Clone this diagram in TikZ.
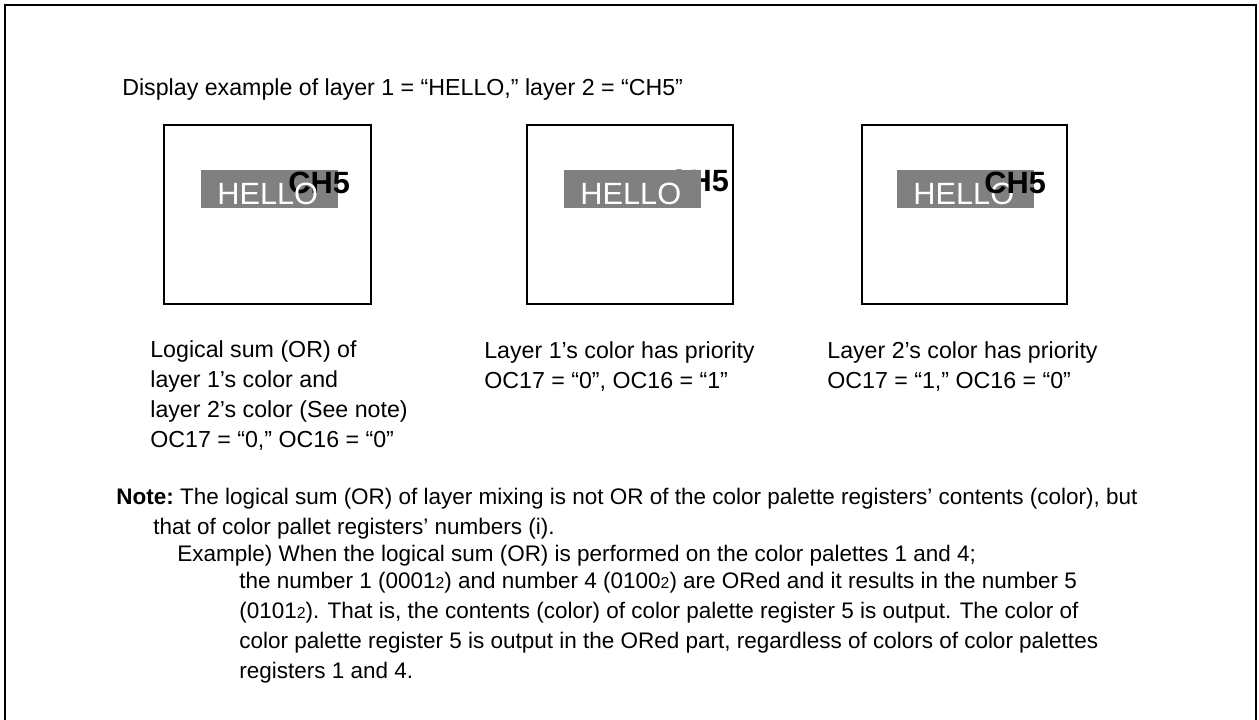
\documentclass[tikz,border=0pt]{standalone}
\usepackage{fontspec}
\setmainfont{Liberation Sans}
\usetikzlibrary{positioning}

\definecolor{barGray}{gray}{0.5}
\tikzset{
  screen/.style={line width=0.8pt},
  bar/.style={fill=barGray},
  hello/.style={text=white,font=\fontsize{17.5}{17.5}\selectfont,anchor=base west,inner sep=0pt},
  chfive/.style={font=\bfseries\fontsize{17.5}{17.5}\selectfont,anchor=base west,inner sep=0pt},
  txt/.style={align=left,anchor=base west,inner sep=0pt,font=\fontsize{13.2}{17}\selectfont},
  notetxt/.style={txt,font=\fontsize{12.8}{17}\selectfont},
}
\newcommand{\bintwo}[1]{#1{\fontsize{9}{9}\selectfont 2}}

\begin{document}
\begin{tikzpicture}[x=0.02cm,y=-0.02cm]
  \useasboundingbox (0,0) rectangle (1259,720);
  % outer frame (open at the bottom)
  \draw[line width=1.2pt] (5,730) -- (5,5) -- (1256,5) -- (1256,730);
  \node[txt] (title) at (122,95) {Display example of layer 1 = “HELLO,” layer 2 = “CH5”};
  % screen 1: OR of both layers
  \draw[screen] (164,125) rectangle (371,304);
  \fill[bar] (201,170) rectangle (338,208);
  \node[chfive] (ch1) at (288,193) {CH5};
  \node[hello] (hello1) at (217,204) {HELLO};
  % screen 2: layer 1 on top
  \draw[screen] (527,125) rectangle (733,304);
  \node[chfive] (ch2) at (667,191) {CH5};
  \fill[bar] (564,170) rectangle (701,208);
  \node[hello] (hello2) at (580,204) {HELLO};
  % screen 3: layer 2 on top
  \draw[screen] (862,125) rectangle (1067,304);
  \fill[bar] (897,170) rectangle (1034,208);
  \node[hello] (hello3) at (913,204) {HELLO};
  \node[chfive] (ch3) at (984,193) {CH5};
  % captions (anchored on their last line)
  \node[txt] (cap1) at (150,447) {Logical sum (OR) of\\layer 1’s color and\\layer 2’s color (See note)\\OC17 = “0,” OC16 = “0”};
  \node[txt] (cap2) at (484,388) {Layer 1’s color has priority\\OC17 = “0”, OC16 = “1”};
  \node[txt] (cap3) at (827,388) {Layer 2’s color has priority\\OC17 = “1,” OC16 = “0”};
  % note
  \node[notetxt] (note1) at (116,504) {\textbf{Note:}~The logical sum (OR) of layer mixing is not OR of the color palette registers’ contents (color), but};
  \node[notetxt] (note2) at (153,534) {that of color pallet registers’ numbers (i).};
  \node[notetxt] (example) at (177,561) {Example) When the logical sum (OR) is performed on the color palettes 1 and 4;};
  \node[notetxt] (detail) at (239,678) {the number 1 (\bintwo{0001}) and number 4 (\bintwo{0100}) are ORed and it results in the number 5\\
    (\bintwo{0101}). That is, the contents (color) of color palette register 5 is output. The color of\\
    color palette register 5 is output in the ORed part, regardless of colors of color palettes\\
    registers 1 and 4.};
\end{tikzpicture}
\end{document}
